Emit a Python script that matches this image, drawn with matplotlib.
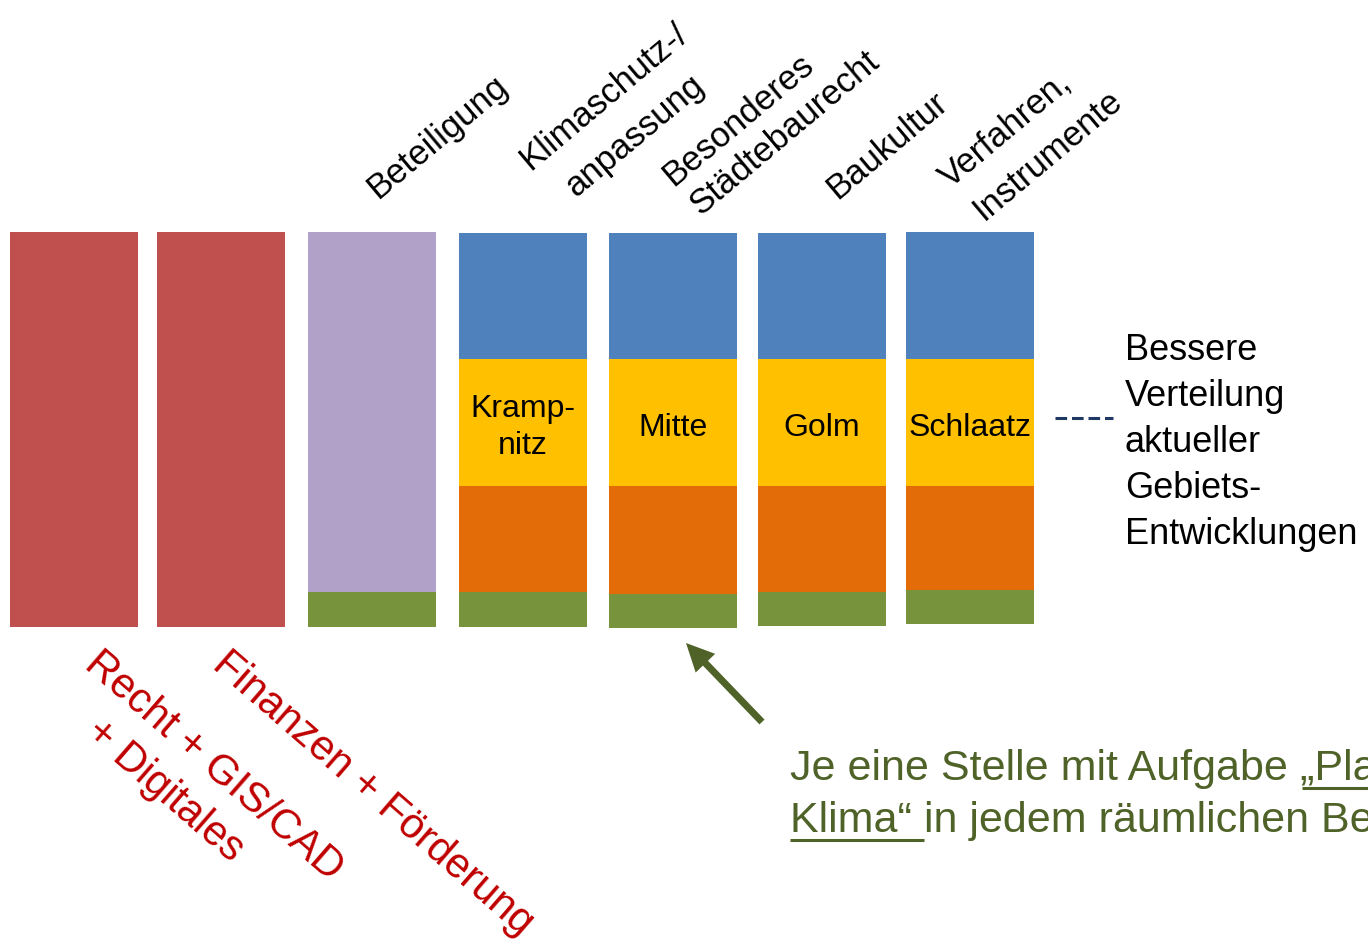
import numpy as np
import matplotlib
matplotlib.use("Agg")
import matplotlib.pyplot as plt

plt.rcParams['font.family'] = ['Liberation Sans', 'DejaVu Sans']

W, H = 1368, 948

# stacked blocks per column, bottom to top (height in px-units of the slide)
columns = ["Recht", "Finanzen", "Beteiligung", "Krampnitz", "Mitte", "Golm", "Schlaatz"]
red = [395, 395, 0, 0, 0, 0, 0]
green = [0, 0, 35, 35, 34, 34, 34]
purple = [0, 0, 360, 0, 0, 0, 0]
orange = [0, 0, 0, 106, 108, 106, 104]
yellow = [0, 0, 0, 127, 127, 127, 127]
blue = [0, 0, 0, 126, 126, 126, 127]

area_labels = ["Kramp-\nnitz", "Mitte", "Golm", "Schlaatz"]
top_labels = [["Beteiligung"], ["Klimaschutz-/", "anpassung"],
              ["Besonderes", "Städtebaurecht"], ["Baukultur"],
              ["Verfahren,", "Instrumente"]]
bottom_labels = [["Recht + GIS/CAD", "+ Digitales"], ["Finanzen + Förderung"]]
side_text = ["Bessere", "Verteilung", "aktueller", "Gebiets-", "Entwicklungen"]

# layout (pixels)
centers = [74, 220.5, 372, 523, 673, 821.5, 970]
bar_w = 128
bases = [627, 627, 627, 627, 628, 626, 624]

colors = {"red": "#C0504D", "green": "#77933C", "purple": "#B1A0C7",
          "orange": "#E36C09", "yellow": "#FFC000", "blue": "#4F81BD"}

fig = plt.figure(figsize=(W / 100, H / 100), dpi=100)
ax = fig.add_axes([0, 0, 1, 1])
ax.set_xlim(0, W)
ax.set_ylim(H, 0)
ax.axis('off')

# y grows downward, so each segment starts at base - cumulative - height
cum = np.zeros(len(columns))
for name, vals in [("red", red), ("green", green), ("purple", purple),
                   ("orange", orange), ("yellow", yellow), ("blue", blue)]:
    vals = np.array(vals, dtype=float)
    top = np.array(bases) - cum - vals
    ax.bar(centers, vals, bottom=top, width=bar_w, color=colors[name], linewidth=0)
    cum += vals

# area names in the yellow band
yellow_mid = np.array(bases) - np.array(red) - np.array(green) - np.array(purple) \
    - np.array(orange) - np.array(yellow) / 2
for i, lab in enumerate(area_labels):
    ax.text(centers[3 + i], yellow_mid[3 + i] + 5, lab, fontsize=23, ha='center',
            va='center', linespacing=1.3, color='black')

# rotated topic labels above the bars
top_anchor = [[(378, 200)], [(530, 171), (576, 198)], [(673, 187), (700, 216)],
              [(837, 200)], [(950, 189), (984, 221)]]
for lines, pts in zip(top_labels, top_anchor):
    for s, (x, y) in zip(lines, pts):
        ax.text(x, y, s, fontsize=25, rotation=40, rotation_mode='anchor',
                ha='left', va='baseline', color='black')

# red labels under the first two bars
bot_anchor = [[(83, 667), (84, 735)], [(211, 667)]]
for lines, pts in zip(bottom_labels, bot_anchor):
    for s, (x, y) in zip(lines, pts):
        ax.text(x, y, s, fontsize=30, rotation=-41, rotation_mode='anchor',
                ha='left', va='baseline', color='#C00000')

# side note with dashed connector
ax.plot([1055, 1113], [418, 418], color='#1F3864', lw=2.2, ls=(0, (3.8, 1.6)))
for i, s in enumerate(side_text):
    ax.text(1125, 360 + 46 * i, s, fontsize=26, ha='left', va='baseline', color='black')

# arrow pointing at the green strip
ax.arrow(762, 722, 686 - 762, 643 - 722, width=7, head_width=27, head_length=28,
         length_includes_head=True, color='#4F6228', linewidth=0)

# green statement, partly underlined (runs off the right edge as on the slide)
gcol = '#4F6228'
inv = ax.transData.inverted()
fig.canvas.draw()
r = fig.canvas.get_renderer()

t1 = ax.text(790, 780, "Je eine Stelle mit Aufgabe ", fontsize=31, color=gcol, va='baseline')
x1 = inv.transform(t1.get_window_extent(r).get_points())[1][0]
t2 = ax.text(x1, 780, "„Planung und", fontsize=31, color=gcol, va='baseline')
x2 = inv.transform(t2.get_window_extent(r).get_points())[1][0]
ax.plot([x1 + 2, x2], [788, 788], color=gcol, lw=2.2, solid_capstyle='butt')

t3 = ax.text(790, 832, "Klima“ ", fontsize=31, color=gcol, va='baseline')
x3 = inv.transform(t3.get_window_extent(r).get_points())[1][0]
ax.plot([790, x3], [840, 840], color=gcol, lw=2.2, solid_capstyle='butt')
ax.text(x3, 832, "in jedem räumlichen Bereich", fontsize=31, color=gcol, va='baseline')

fig.savefig("out.png", dpi=100)
